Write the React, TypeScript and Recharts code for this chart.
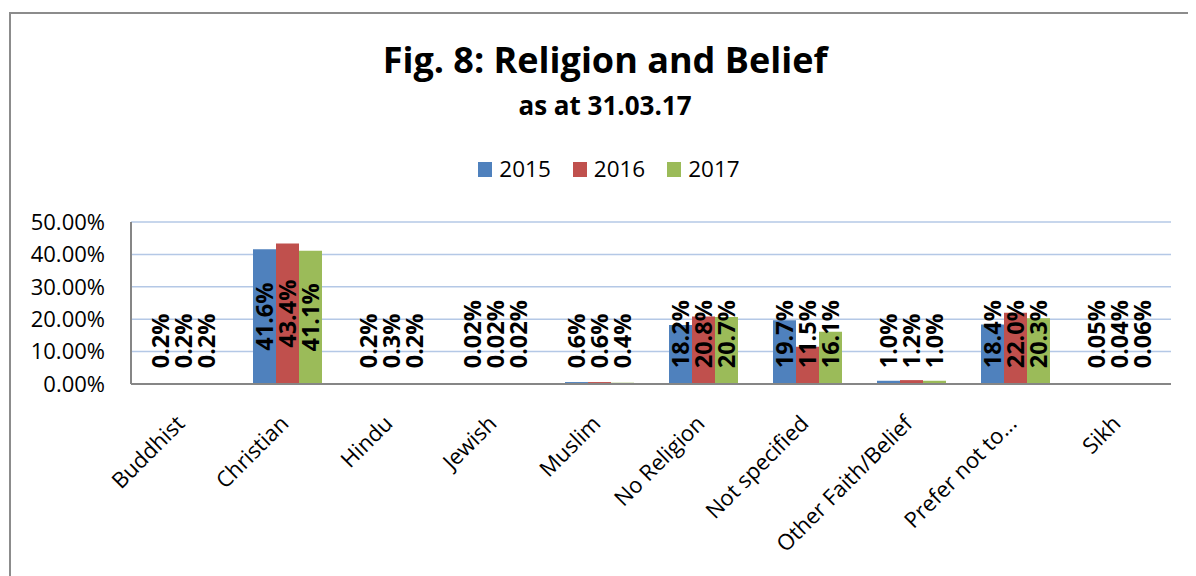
import React from 'react';
import { BarChart, Bar, XAxis, YAxis, CartesianGrid, Legend, LabelList } from 'recharts';

const categories = [
  'Buddhist',
  'Christian',
  'Hindu',
  'Jewish',
  'Muslim',
  'No Religion',
  'Not specified',
  'Other Faith/Belief',
  'Prefer not to...',
  'Sikh',
];
const values2015 = [0.2, 41.6, 0.2, 0.02, 0.6, 18.2, 19.7, 1.0, 18.4, 0.05];
const values2016 = [0.2, 43.4, 0.3, 0.02, 0.6, 20.8, 11.5, 1.2, 22.0, 0.04];
const values2017 = [0.2, 41.1, 0.2, 0.02, 0.4, 20.7, 16.1, 1.0, 20.3, 0.06];
const yTicks = [0, 10, 20, 30, 40, 50];

const data = categories.map((name, i) => ({
  name,
  y2015: values2015[i],
  y2016: values2016[i],
  y2017: values2017[i],
}));

const FONT = '"Open Sans", sans-serif';

const fmtLabel = (v: number) => (v < 0.1 ? v.toFixed(2) : v.toFixed(1)) + '%';

// rough glyph widths for Open Sans Bold, in em
const charW = (c: string) => (c === '.' ? 0.29 : c === '%' ? 0.87 : 0.572);

const LABEL_SIZE = 23.5;

const renderLabel = (props: any) => {
  const { x, y, width, height, value } = props;
  const text = fmtLabel(Number(value));
  const len = text.split('').reduce((s, c) => s + charW(c), 0) * LABEL_SIZE;
  const cx = x + width / 2;
  const base = y + height;
  const center = Math.min(y + height / 2, base - 16 - len / 2);
  return (
    <text
      x={cx}
      y={center}
      transform={`rotate(-90 ${cx} ${center})`}
      textAnchor="middle"
      dominantBaseline="central"
      fontSize={LABEL_SIZE}
      fontWeight="bold"
      fontFamily={FONT}
      fill="#000"
    >
      {text}
    </text>
  );
};

const XTick = (props: any) => {
  const { x, y, payload } = props;
  return (
    <g transform={`translate(${x + 3},${y + 41})`}>
      <text textAnchor="end" transform="rotate(-45)" fontSize={22} fontFamily={FONT} fill="#000">
        {payload.value}
      </text>
    </g>
  );
};

const renderLegend = (props: any) => {
  const { payload } = props;
  return (
    <div style={{ display: 'flex', justifyContent: 'center', paddingLeft: 36, fontFamily: FONT }}>
      {payload.map((p: any) => (
        <div key={p.value} style={{ display: 'flex', alignItems: 'center', marginRight: 22 }}>
          <span style={{ display: 'inline-block', width: 14, height: 15, background: p.color, marginRight: 7 }} />
          <span style={{ fontSize: 22.5, lineHeight: '30px', color: '#000' }}>{p.value}</span>
        </div>
      ))}
    </div>
  );
};

export default function App() {
  return (
    <div style={{ position: 'relative', width: 1188, height: 568, overflow: 'hidden', fontFamily: FONT }}>
      <div
        style={{
          position: 'absolute',
          left: 1,
          top: 4,
          width: 1400,
          height: 800,
          border: '2px solid #8c8c8c',
          boxSizing: 'border-box',
        }}
      />
      <svg width={1188} height={140} style={{ position: 'absolute', left: 0, top: 0 }}>
        <text x={597} y={65} textAnchor="middle" fontSize={36} fontWeight="bold" fontFamily={FONT} fill="#000">
          Fig. 8: Religion and Belief
        </text>
        <text x={597} y={107} textAnchor="middle" fontSize={26} fontWeight="bold" fontFamily={FONT} fill="#000">
          as at 31.03.17
        </text>
      </svg>
      <BarChart
        width={1188}
        height={568}
        data={data}
        margin={{ top: 214, right: 25, left: 0, bottom: 0 }}
        barGap={0}
        style={{ position: 'absolute', left: 0, top: 0 }}
      >
        <CartesianGrid vertical={false} stroke="#b4c8e6" strokeWidth={1.5} />
        <XAxis
          dataKey="name"
          interval={0}
          height={192}
          tickLine={false}
          tickSize={0}
          tickMargin={0}
          axisLine={{ stroke: '#868686', strokeWidth: 2 }}
          tick={<XTick />}
        />
        <YAxis
          width={123}
          domain={[0, 50]}
          ticks={yTicks}
          interval={0}
          tickLine={false}
          tickSize={0}
          tickMargin={26}
          axisLine={{ stroke: '#868686', strokeWidth: 2 }}
          tick={{ fill: '#000', fontSize: 22, fontFamily: FONT }}
          tickFormatter={(v: number) => v.toFixed(2) + '%'}
        />
        <Legend
          verticalAlign="middle"
          align="center"
          content={renderLegend}
          wrapperStyle={{ top: 146, left: 0, width: 1188 }}
        />
        <Bar dataKey="y2015" name="2015" fill="#4f81bd" barSize={23} isAnimationActive={false}>
          <LabelList dataKey="y2015" content={renderLabel} />
        </Bar>
        <Bar dataKey="y2016" name="2016" fill="#c0504d" barSize={23} isAnimationActive={false}>
          <LabelList dataKey="y2016" content={renderLabel} />
        </Bar>
        <Bar dataKey="y2017" name="2017" fill="#9bbb59" barSize={23} isAnimationActive={false}>
          <LabelList dataKey="y2017" content={renderLabel} />
        </Bar>
      </BarChart>
    </div>
  );
}
